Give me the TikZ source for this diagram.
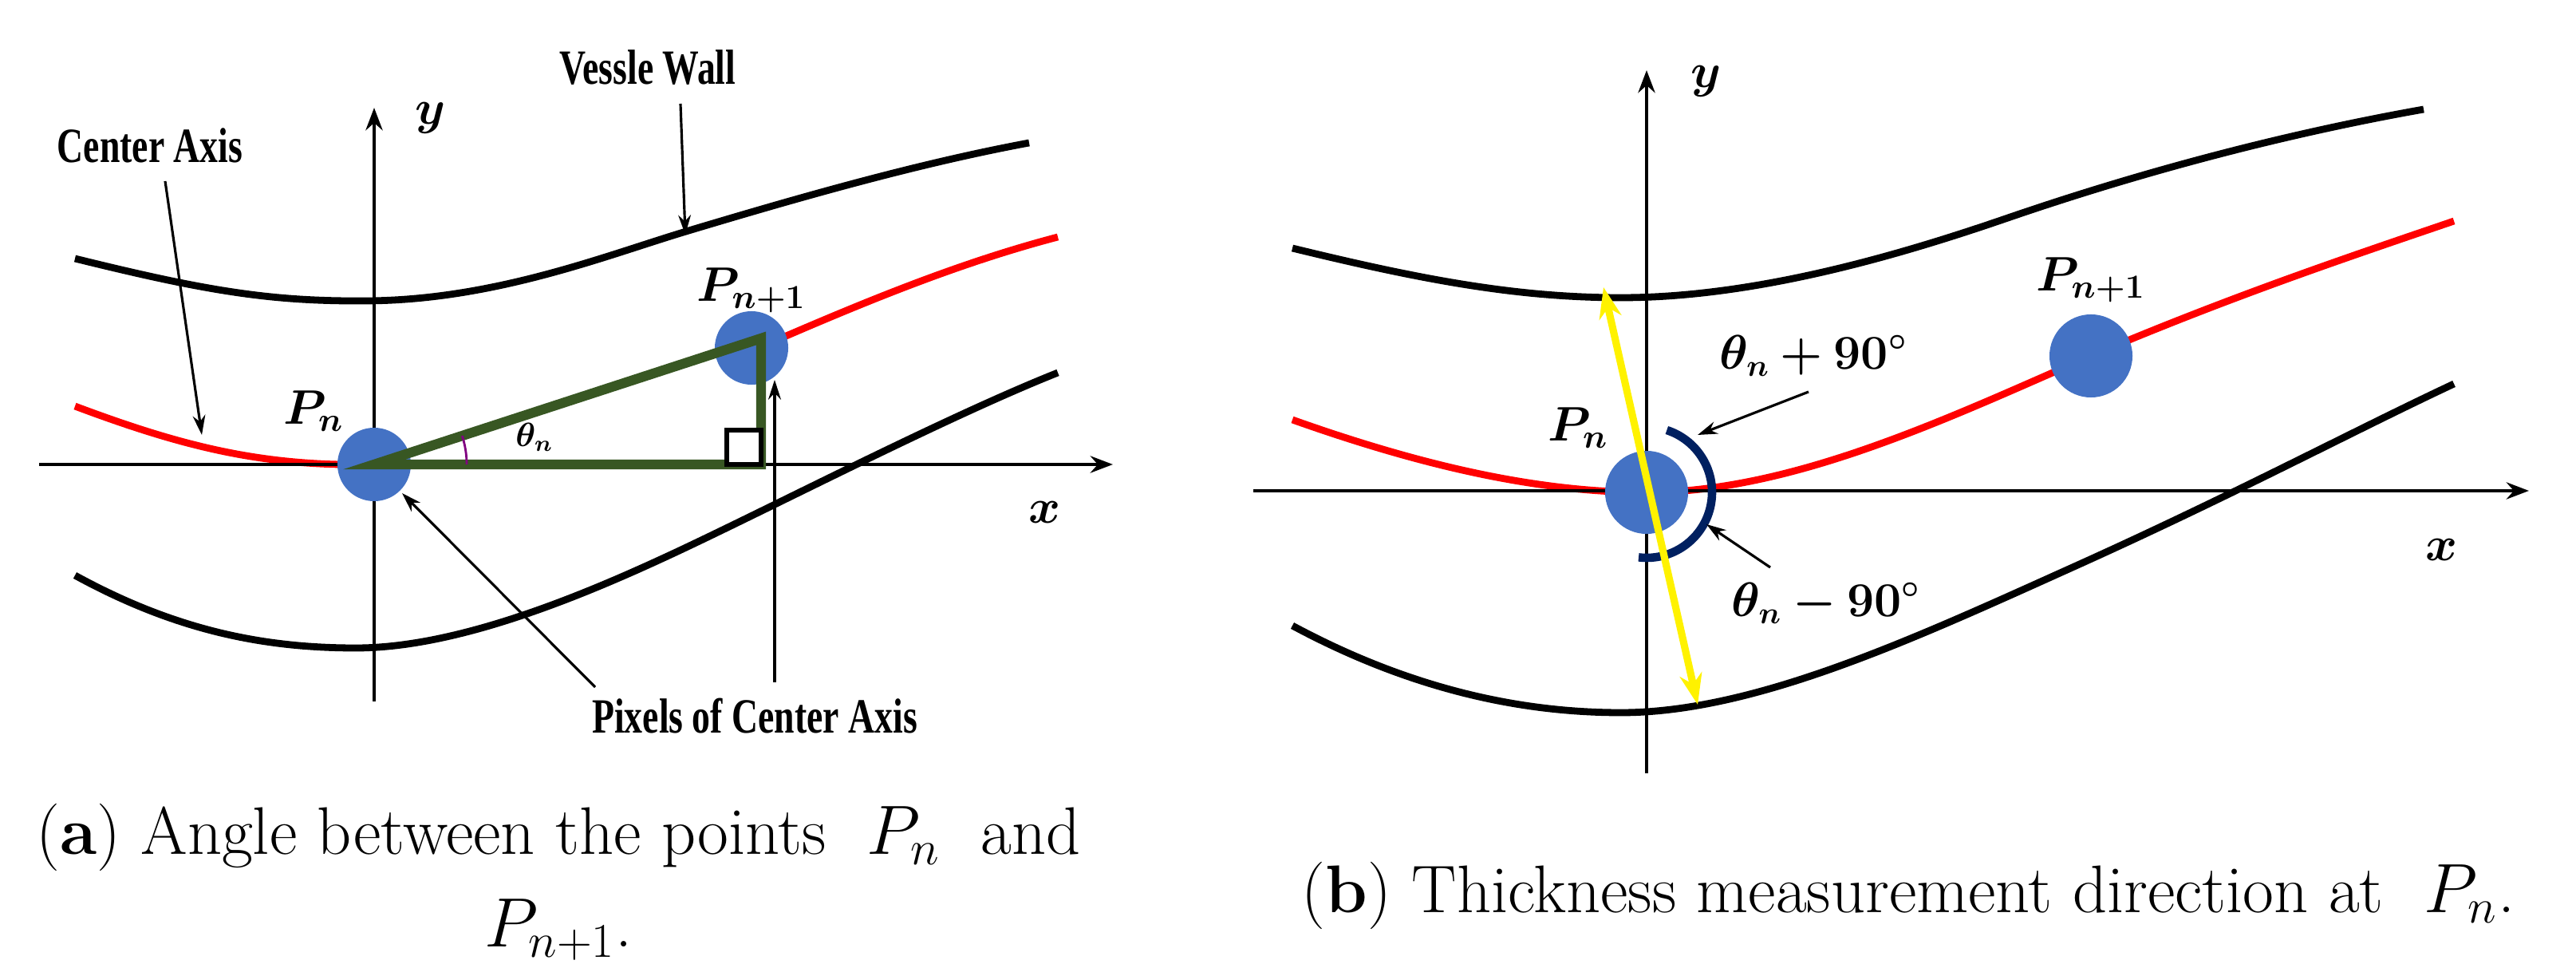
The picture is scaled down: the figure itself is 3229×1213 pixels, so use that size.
\documentclass[tikz,border=0pt]{standalone}
\usepackage{amsmath,bm}
\usepackage{fontspec}
\newfontfamily\tnr{Liberation Serif}
\usetikzlibrary{arrows.meta}
\definecolor{dot}{RGB}{68,114,196}
\definecolor{tri}{RGB}{56,87,35}
\definecolor{navy}{RGB}{0,32,96}
\newcommand{\tall}[1]{\scalebox{1}[1.35]{#1}}
\begin{document}
\begin{tikzpicture}[x=0.01cm,y=-0.01cm,
  wall/.style={line width=2.5pt,black},
  ctr/.style={line width=2.5pt,red},
  axis/.style={line width=1.3pt,-{Stealth[length=8pt,width=6pt]}},
  pt/.style={circle,fill=dot,inner sep=0pt,minimum size=#1},
  lbl/.style={font=\tnr\bfseries\fontsize{13}{15}\selectfont},
  ptr/.style={line width=0.9pt,-{Stealth[length=7pt,width=4.5pt]}},
  captext/.style={font=\fontsize{24}{33}\selectfont,align=center}]
\useasboundingbox (0,0) rectangle (3229,1213);
% ---------- panel a ----------
\draw[wall] (94,324) .. controls (260,365) and (340,378) .. (460,377) .. controls (620,376) and (760,320) .. (860,290) .. controls (1000,248) and (1150,205) .. (1290,179);
\draw[wall] (94,721) .. controls (220,790) and (330,812) .. (446,812) .. controls (560,812) and (700,760) .. (830,700) .. controls (950,645) and (1180,525) .. (1326,467);
\draw[ctr] (94,509) .. controls (230,560) and (330,585) .. (469,582);
\draw[ctr] (960,432) .. controls (1080,380) and (1200,330) .. (1326,297);
\coordinate (ya0) at (469,879); \coordinate (ya1) at (469,135);
\coordinate (xa0) at (49,582); \coordinate (xa1) at (1395,582);
\draw[axis] (ya0) -- (ya1);
\draw[axis] (xa0) -- (xa1);
\node[font=\fontsize{19}{21}\selectfont] (ylab) at (540,148) {$\bm{y}$};
\node[font=\fontsize{19}{21}\selectfont] (xlab) at (1310,642) {$\bm{x}$};
\node[pt=92pt*0.2845] (Pa) at (469,582) {};
\node[pt=92pt*0.2845] (Qa) at (942,436) {};
\coordinate (R) at (954,582); \coordinate (T) at (954,424);
\draw[tri,line width=3.5pt,line join=miter] (Pa.center) -- (T) -- (R) -- cycle;
\draw[line width=1.6pt,fill=white] (911,539) rectangle (954,582);
\draw[violet,line width=0.8pt] (469,582) ++(0:116) arc[start angle=0,end angle=-18,radius=116];
\node[font=\fontsize{12}{14}\selectfont] (th) at (670,548) {$\bm{\theta_n}$};
\node[font=\fontsize{18}{20}\selectfont] (Pna) at (393,515) {$\bm{P_n}$};
\node[font=\fontsize{18}{20}\selectfont] (Pn1a) at (942,364) {$\bm{P_{n+1}}$};
\node[lbl] (vw) at (812,85) {\tall{Vessle Wall}};
\node[lbl] (ca) at (188,182) {\tall{Center Axis}};
\node[lbl] (pc) at (946,897) {\tall{Pixels of Center Axis}};
\coordinate (vwe) at (859,294); \coordinate (cae) at (253,545);
\coordinate (pc1) at (504,618); \coordinate (pc2) at (971,476);
\draw[ptr] (853,130) -- (vwe);
\draw[ptr] (207,227) -- (cae);
\draw[ptr] (746,861) -- (pc1);
\draw[ptr] (971,855) -- (pc2);
\node[captext] (capa) at (700,1105) {(\textbf{a}) Angle between the points~ $P_n$~ and\\ $P_{n+1}$.};
% ---------- panel b ----------
\draw[wall] (1620,311) .. controls (1780,350) and (1900,373) .. (2032,373) .. controls (2200,373) and (2380,320) .. (2514,274) .. controls (2700,210) and (2880,165) .. (3038,137);
\draw[wall] (1620,784) .. controls (1780,870) and (1920,893) .. (2032,893) .. controls (2200,893) and (2400,800) .. (2600,710) .. controls (2800,620) and (2950,540) .. (3076,481);
\draw[ctr] (1620,526) .. controls (1800,590) and (1940,617) .. (2064,617) .. controls (2250,617) and (2450,520) .. (2621,446) .. controls (2800,370) and (2950,320) .. (3076,277);
\coordinate (yb0) at (2064,969); \coordinate (yb1) at (2064,88);
\coordinate (xb0) at (1571,615); \coordinate (xb1) at (3170,615);
\draw[axis] (yb0) -- (yb1);
\draw[axis] (xb0) -- (xb1);
\node[font=\fontsize{19}{21}\selectfont] (ylb) at (2139,102) {$\bm{y}$};
\node[font=\fontsize{19}{21}\selectfont] (xlb) at (3060,689) {$\bm{x}$};
\node[pt=104pt*0.2845] (Pb) at (2064,617) {};
\node[pt=104pt*0.2845] (Qb) at (2621,446) {};
\draw[navy,line width=3pt] (Pb.center) ++(97:82) arc[start angle=97,end angle=-72,radius=82];
\coordinate (yl0) at (2010,360); \coordinate (yl1) at (2128,883);
\draw[yellow,line width=2.6pt,{Stealth[length=11pt,width=8pt]}-{Stealth[length=11pt,width=8pt]}] (yl0) -- (yl1);
\node[font=\fontsize{18}{20}\selectfont] (Pnb) at (1978,536) {$\bm{P_n}$};
\node[font=\fontsize{18}{20}\selectfont] (Pn1b) at (2621,351) {$\bm{P_{n+1}}$};
\node[font=\fontsize{16}{18}\selectfont] (tp) at (2273,446) {$\bm{\theta_n+90^\circ}$};
\node[font=\fontsize{16}{18}\selectfont] (tm) at (2289,756) {$\bm{\theta_n-90^\circ}$};
\coordinate (tpe) at (2128,545); \coordinate (tme) at (2139,657);
\draw[ptr] (2267,491) -- (tpe);
\draw[ptr] (2219,711) -- (tme);
\node[captext] (capb) at (2392,1122) {(\textbf{b}) Thickness measurement direction at~ $P_n$.};
\end{tikzpicture}
\end{document}
